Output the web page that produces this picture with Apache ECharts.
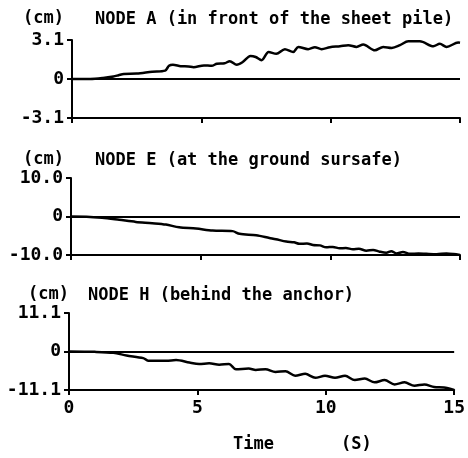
<!DOCTYPE html>
<html>
<head>
<meta charset="utf-8">
<script src="https://cdn.jsdelivr.net/npm/echarts@6/dist/echarts.min.js"></script>
<style>
  html, body { margin: 0; padding: 0; background: #fff; }
  #chart { width: 468px; height: 458px; }
</style>
</head>
<body>
<div id="chart"></div>
<script>
// Horizontal displacement histories (cm) at three nodes, time in seconds
const xTicks = [0, 5, 10, 15];

const timeA = [0, 0.7, 1.2, 1.6, 1.8, 2.0, 2.5, 3.1, 3.6, 3.75, 3.9, 4.2, 4.5, 4.7, 5.1, 5.4, 5.6, 5.9, 6.1, 6.37,
  6.6, 6.9, 7.1, 7.33, 7.6, 7.9, 8.23, 8.55, 8.75, 9.13, 9.39, 9.65, 9.97, 10.36, 10.68, 11.0, 11.26, 11.71,
  12.03, 12.36, 12.68, 13.0, 13.45, 13.97, 14.22, 14.48, 14.93, 15];
const dispA = [0, 0, 0.08, 0.2, 0.3, 0.4, 0.43, 0.58, 0.67, 1.05, 1.13, 1.02, 1.0, 0.94, 1.08, 1.05, 1.21, 1.25, 1.42, 1.13,
  1.35, 1.83, 1.75, 1.5, 2.15, 2.0, 2.37, 2.15, 2.55, 2.37, 2.53, 2.37, 2.53, 2.6, 2.69, 2.55, 2.74, 2.28,
  2.55, 2.47, 2.69, 3.0, 3.0, 2.6, 2.8, 2.55, 2.9, 2.88];

const timeE = [0, 0.6, 1.2, 1.86, 2.5, 3.13, 3.66, 4.17, 4.82, 5.46, 6.23, 6.5, 7.14, 7.65, 7.9, 8.3, 8.6, 8.81, 9.1,
  9.33, 9.6, 9.84, 10.1, 10.36, 10.6, 10.87, 11.1, 11.39, 11.65, 11.9, 12.16, 12.35, 12.55, 12.8, 13.07, 13.4,
  13.7, 14.1, 14.48, 14.75, 15];
const dispE = [0, -0.05, -0.35, -0.87, -1.4, -1.74, -2.1, -2.8, -3.13, -3.65, -3.8, -4.5, -4.87, -5.57, -5.9, -6.5, -6.7, -7.1, -7.0,
  -7.4, -7.5, -8.0, -7.9, -8.26, -8.2, -8.5, -8.4, -8.87, -8.7, -9.13, -9.4, -9.0, -9.6, -9.2, -9.7, -9.6,
  -9.7, -9.8, -9.6, -9.75, -10.0];

const timeH = [0, 1.0, 1.73, 2.24, 2.89, 3.08, 3.5, 3.79, 4.17, 4.69, 5.07, 5.46, 5.85, 6.23, 6.5, 7.0, 7.27, 7.65,
  8.04, 8.43, 8.81, 9.2, 9.59, 9.97, 10.36, 10.75, 11.13, 11.52, 11.9, 12.29, 12.68, 13.07, 13.45, 13.84,
  14.22, 14.6, 15];
const dispH = [0, -0.1, -0.38, -1.14, -1.9, -2.66, -2.66, -2.66, -2.47, -3.2, -3.6, -3.4, -3.8, -3.6, -5.1, -4.93, -5.3, -5.1,
  -5.9, -5.7, -7.0, -6.45, -7.6, -7.0, -7.6, -7.0, -8.25, -7.8, -8.9, -8.25, -9.5, -8.9, -9.87, -9.5,
  -10.25, -10.4, -11.1];

const yLimits = [3.1, 10.0, 11.1];
const panelTitles = ['NODE A (in front of the sheet pile)', 'NODE E (at the ground sursafe)', 'NODE H (behind the anchor)'];
const unitLabel = '(cm)';
const xTitle = 'Time';
const xUnit = '(S)';

const FONT = '"DejaVu Sans Mono", monospace';
const panels = [
  { t: timeA, v: dispA, left: 72, right: 8, top: 40, height: 78 },
  { t: timeE, v: dispE, left: 71, right: 8, top: 178, height: 77 },
  { t: timeH, v: dispH, left: 69, right: 10, top: 313, height: 77 }
];

const grid = [], xAxis = [], yAxis = [], series = [];
panels.forEach((p, i) => {
  grid.push({ left: p.left, right: p.right, top: p.top, height: p.height });
  xAxis.push({
    type: 'value', gridIndex: i, min: xTicks[0], max: xTicks[xTicks.length - 1], interval: 5,
    axisLine: { show: true, onZero: false, lineStyle: { color: '#000', width: 2 } },
    axisTick: { show: true, inside: false, length: 5, lineStyle: { color: '#000', width: 2 } },
    axisLabel: { show: i === 2, color: '#000', fontFamily: FONT, fontWeight: 'bold', fontSize: 18, margin: 9 },
    splitLine: { show: false }
  });
  const lim = yLimits[i];
  yAxis.push({
    type: 'value', gridIndex: i, min: -lim, max: lim, interval: lim,
    axisLine: { show: true, onZero: false, lineStyle: { color: '#000', width: 2 } },
    axisTick: { show: true, length: 5, lineStyle: { color: '#000', width: 2 } },
    axisLabel: {
      color: '#000', fontFamily: FONT, fontWeight: 'bold', fontSize: 18, margin: 8,
      formatter: v => (Math.abs(v) < 1e-9 ? '0' : v.toFixed(1))
    },
    splitLine: { show: false }
  });
  series.push({
    type: 'line', xAxisIndex: i, yAxisIndex: i,
    data: p.t.map((t, k) => [t, p.v[k]]),
    showSymbol: false, symbol: 'none', smooth: 0.3,
    lineStyle: { color: '#000', width: 2.5 },
    markLine: {
      silent: true, symbol: 'none', label: { show: false },
      lineStyle: { color: '#000', width: 2, type: 'solid' },
      data: [{ yAxis: 0 }]
    },
    animation: false
  });
});

const textStyle = { fill: '#000', font: 'bold 17px ' + FONT };
const graphic = [
  { type: 'text', left: 23, top: 10, style: Object.assign({ text: unitLabel }, textStyle) },
  { type: 'text', left: 95, top: 11, style: Object.assign({ text: panelTitles[0] }, textStyle) },
  { type: 'text', left: 23, top: 151, style: Object.assign({ text: unitLabel }, textStyle) },
  { type: 'text', left: 95, top: 152, style: Object.assign({ text: panelTitles[1] }, textStyle) },
  { type: 'text', left: 28, top: 286, style: Object.assign({ text: unitLabel }, textStyle) },
  { type: 'text', left: 88, top: 287, style: Object.assign({ text: panelTitles[2] }, textStyle) },
  { type: 'text', left: 233, top: 436, style: Object.assign({ text: xTitle }, textStyle) },
  { type: 'text', left: 341, top: 436, style: Object.assign({ text: xUnit }, textStyle) }
];

const chart = echarts.init(document.getElementById('chart'), null, { renderer: 'canvas' });
chart.setOption({
  backgroundColor: '#fff',
  animation: false,
  grid, xAxis, yAxis, series, graphic
});
</script>
</body>
</html>
